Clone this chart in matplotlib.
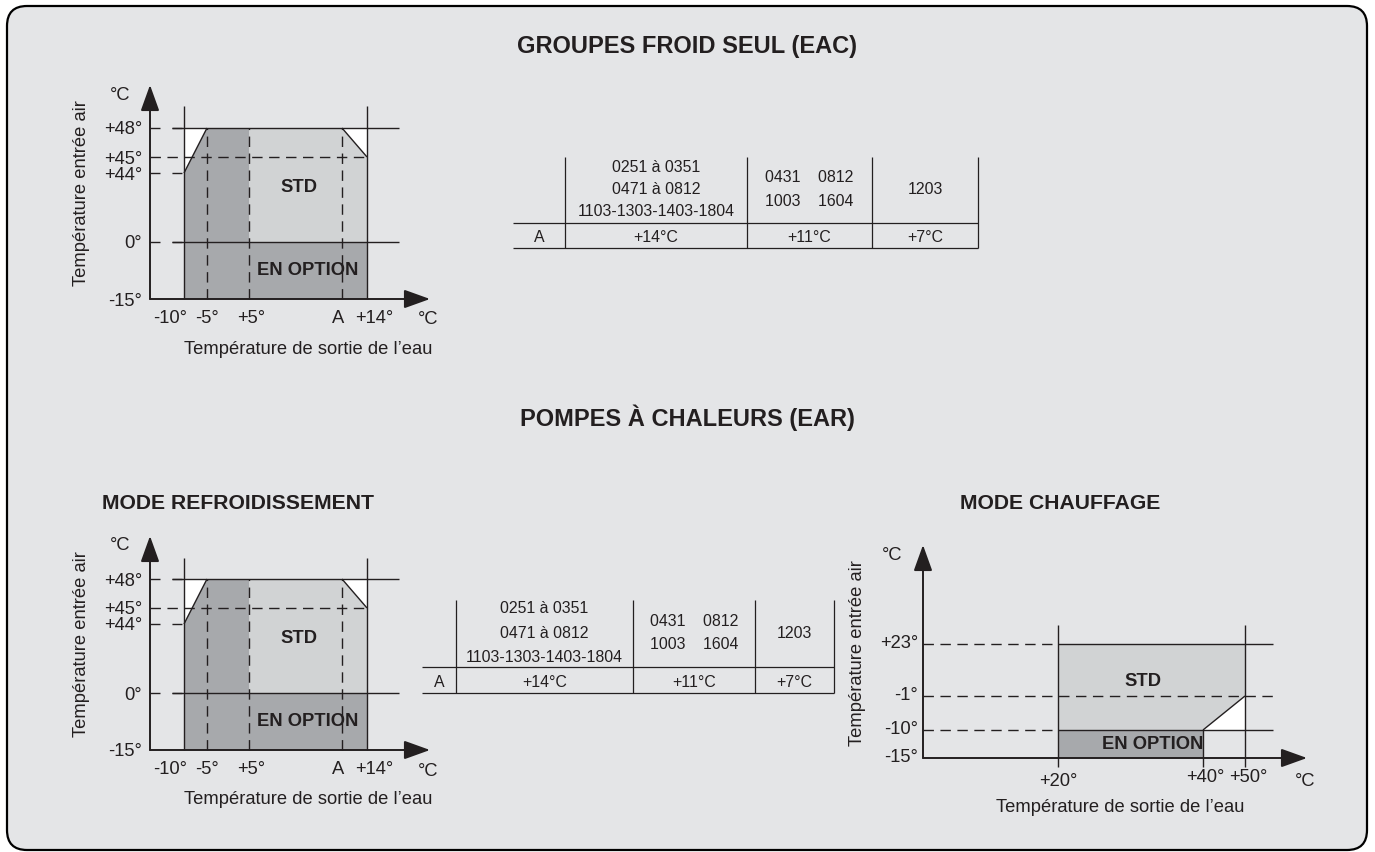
import numpy as np
import matplotlib
matplotlib.use('Agg')
import matplotlib.pyplot as plt
from matplotlib.patches import FancyBboxPatch, Polygon

plt.rcParams['font.family'] = ['Liberation Sans', 'DejaVu Sans']
plt.rcParams['lines.scale_dashes'] = False

W, H = 1375, 852
DPI = 100

BG = '#e4e5e7'
DARK = '#a7a9ac'
LIGHT = '#d1d3d4'
INK = '#231f20'

# ---------------- data ----------------
TITLE_TOP = 'GROUPES FROID SEUL (EAC)'
TITLE_MID = 'POMPES À CHALEURS (EAR)'
SUB_COOL = 'MODE REFROIDISSEMENT'
SUB_HEAT = 'MODE CHAUFFAGE'
XLABEL = 'Température de sortie de l’eau'
YLABEL = 'Température entrée air'
UNIT = '°C'

A = 11  # "A" limit, depends on the model (see table)
cool_x_ticks = [-10, -5, 5, A, 14]
cool_x_labels = ['-10°', '-5°', '+5°', 'A', '+14°']
cool_y_ticks = [-15, 0, 44, 45, 48]
cool_y_labels = ['-15°', '0°', '+44°', '+45°', '+48°']
cool_std = [(5, 0), (14, 0), (14, 45), (A, 48), (5, 48)]
cool_opt = [(-10, -15), (14, -15), (14, 0), (5, 0), (5, 48), (-5, 48), (-10, 44)]
cool_cut_left = [(-10, 44), (-10, 48), (-5, 48)]
cool_cut_right = [(A, 48), (14, 48), (14, 45)]

heat_x_ticks = [20, 40, 50]
heat_x_labels = ['+20°', '+40°', '+50°']
heat_y_ticks = [-15, -10, -1, 23]
heat_y_labels = ['-15°', '-10°', '-1°', '+23°']
heat_std = [(20, -10), (40, -10), (50, -1), (50, 23), (20, 23)]
heat_opt = [(20, -15), (40, -15), (40, -10), (20, -10)]
heat_cut = [(40, -10), (50, -10), (50, -1)]

table_models = ['0251 à 0351\n0471 à 0812\n1103-1303-1403-1804',
                '0431    0812\n1003    1604',
                '1203']
table_a = ['+14°C', '+11°C', '+7°C']

# ---------------- layout (pixels of the drawing, not to scale) ----------------
COOL_XV = [-20, -10, -5, 5, A, 14, 20]
COOL_XP = [150, 184, 207, 249, 342, 367, 430]
COOL_YV = [-15, 0, 44, 45, 48, 60]
COOL_YP = [299, 242, 173, 157, 128, 85]
COOL_XLAB_DX = [-14, 0, 2, -4, 7]
HEAT_XV = [0, 20, 40, 50, 60]
HEAT_XP = [923, 1058, 1203, 1245, 1307]
HEAT_YV = [-25, -15, -10, -1, 23, 50]
HEAT_YP = [785, 758, 730, 696, 644, 545]
HEAT_XLAB_D = [(0, 0), (2, 4), (3, 4)]

LW = 1.0
AXLW = 1.4
LEAD = (7.2, 8.6)
DASH = (7.5, 4.7)
PX = 72.0 / DPI  # points per pixel

fig = plt.figure(figsize=(W / DPI, H / DPI), dpi=DPI, facecolor='white')
bg = fig.add_axes([0, 0, 1, 1])
bg.set_xlim(0, W)
bg.set_ylim(H, 0)
bg.axis('off')
bg.add_patch(FancyBboxPatch((7, 6), 1360, 844, boxstyle='round,pad=0,rounding_size=20',
                            fc=BG, ec='black', lw=1.6))


def txt(x, y, s, size=13.2, **kw):
    bg.text(x, y, s, fontsize=size, color=INK, **kw)


def schematic_axes(xv, xp, yv, yp, ylo):
    xv, xp, yv, yp = [np.asarray(a, float) for a in (xv, xp, yv, yp)]
    ybot = np.interp(ylo, yv, yp)
    ax = fig.add_axes([xp[0] / W, 1 - ybot / H, (xp[-1] - xp[0]) / W, (ybot - yp[-1]) / H])
    ax.set_xscale('function', functions=(lambda v: np.interp(v, xv, xp),
                                         lambda p: np.interp(p, xp, xv)))
    ax.set_yscale('function', functions=(lambda v: -np.interp(v, yv, yp),
                                         lambda p: np.interp(-p, -yp, yv)))
    ax.set_xlim(xv[0], xv[-1])
    ax.set_ylim(ylo, yv[-1])
    ax.set_facecolor('none')
    ax.set_xticks([])
    ax.set_yticks([])
    for s in ax.spines.values():
        s.set_visible(False)
    return ax


def line(ax, xs, ys, dashes=None, lw=LW):
    kw = dict(color=INK, lw=lw, clip_on=False, solid_capstyle='butt', dash_capstyle='butt')
    if dashes:
        kw['dashes'] = dashes
    ax.plot(xs, ys, **kw)


def arrows(ax, x0, y0, x1, y1):
    kw = dict(arrowstyle='-|>,head_length=1.0,head_width=0.36', mutation_scale=16,
              color=INK, lw=AXLW, shrinkA=0, shrinkB=0)
    ax.annotate('', xy=(x1, y0), xytext=(x0, y0), arrowprops=kw, annotation_clip=False)
    ax.annotate('', xy=(x0, y1), xytext=(x0, y0), arrowprops=kw, annotation_clip=False)


def tick_texts(ax, x0, y0, xt, xl, xd, yt, yl, xpad, ypad, ydy):
    for v, s, (dx, dy) in zip(xt, xl, xd):
        ax.annotate(s, xy=(v, y0), xytext=(dx * PX, -xpad + dy * PX), textcoords='offset points',
                    ha='center', va='top', fontsize=13.2, color=INK, annotation_clip=False)
    for v, s in zip(yt, yl):
        ax.annotate(s, xy=(x0, v), xytext=(-ypad, ydy), textcoords='offset points',
                    ha='right', va='center_baseline', fontsize=13.2, color=INK,
                    annotation_clip=False)


def cool_diagram(dy):
    ax = schematic_axes(COOL_XV, COOL_XP, COOL_YV, [p + dy for p in COOL_YP], -15)
    x0 = COOL_XV[0]
    ax.add_patch(Polygon(cool_opt, closed=True, fc=DARK, ec='none'))
    ax.add_patch(Polygon(cool_std, closed=True, fc=LIGHT, ec='none'))
    for tri in (cool_cut_left, cool_cut_right):
        ax.add_patch(Polygon(tri, closed=True, fc='white', ec='none'))
    for x in (-5, 5, A):
        line(ax, [x, x], [-15, 48], DASH)
    line(ax, [x0, 14], [45, 45], DASH)
    for y in (48, 44, 0):
        line(ax, [x0, -10], [y, y], LEAD)
    line(ax, [-13.5, 17], [48, 48])
    line(ax, [-13.5, 17], [0, 0])
    for x in (-10, 14):
        line(ax, [x, x], [-15, 54])
    line(ax, [-10, -5], [44, 48])
    line(ax, [A, 14], [48, 45])
    arrows(ax, x0, -15, COOL_XV[-1], COOL_YV[-1])
    tick_texts(ax, x0, -15, cool_x_ticks, cool_x_labels, [(d, 0) for d in COOL_XLAB_DX],
               cool_y_ticks, cool_y_labels, 8.0, 5.8, 0)
    ax.text(8.2, 36, 'STD', ha='center', va='center_baseline', fontsize=13.2,
            fontweight='bold', color=INK, zorder=5)
    ax.text(8.8, -7, 'EN OPTION', ha='center', va='center_baseline', fontsize=13.2,
            fontweight='bold', color=INK, zorder=5)
    txt(120, 93 + dy, UNIT, ha='center', va='center_baseline')
    txt(428, 318 + dy, UNIT, ha='center', va='center_baseline')
    txt(308, 347 + dy, XLABEL, ha='center', va='center_baseline')
    txt(82, 193 + dy, YLABEL, ha='center', va='center', rotation=90)


def heat_diagram():
    ax = schematic_axes(HEAT_XV, HEAT_XP, HEAT_YV, HEAT_YP, -15)
    x0 = HEAT_XV[0]
    ax.add_patch(Polygon(heat_std, closed=True, fc=LIGHT, ec='none'))
    ax.add_patch(Polygon(heat_opt, closed=True, fc=DARK, ec='none'))
    ax.add_patch(Polygon(heat_cut, closed=True, fc='white', ec='none'))
    line(ax, [x0, 20], [23, 23], DASH)
    line(ax, [20, 54.5], [23, 23])
    line(ax, [x0, 54.5], [-1, -1], DASH)
    line(ax, [x0, 20], [-10, -10], DASH)
    line(ax, [20, 54.5], [-10, -10])
    for x in (20, 50):
        line(ax, [x, x], [-18.3, 28.2])
    line(ax, [40, 40], [-18.3, -10])
    line(ax, [40, 50], [-10, -1])
    arrows(ax, x0, -15, HEAT_XV[-1], HEAT_YV[-1])
    tick_texts(ax, x0, -15, heat_x_ticks, heat_x_labels, HEAT_XLAB_D,
               heat_y_ticks, heat_y_labels, 11.0, 3.6, 1.5)
    ax.text(31.7, 6.4, 'STD', ha='center', va='center_baseline', fontsize=13.2,
            fontweight='bold', color=INK, zorder=5)
    ax.text(33, -12.3, 'EN OPTION', ha='center', va='center_baseline', fontsize=13.2,
            fontweight='bold', color=INK, zorder=5)
    txt(892, 553, UNIT, ha='center', va='center_baseline')
    txt(1305, 780, UNIT, ha='center', va='center_baseline')
    txt(1120, 805, XLABEL, ha='center', va='center_baseline')
    txt(858, 653, YLABEL, ha='center', va='center', rotation=90)


def draw_table(cols, rows, spacing):
    ax = fig.add_axes([cols[0] / W, 1 - rows[-1] / H, (cols[-1] - cols[0]) / W,
                       (rows[-1] - rows[0]) / H])
    ax.set_xlim(cols[0], cols[-1])
    ax.set_ylim(rows[-1], rows[0])
    ax.axis('off')
    for x in cols[1:]:
        line(ax, [x, x], [rows[0], rows[-1]], lw=0.9)
    for y in rows[1:]:
        line(ax, [cols[0], cols[-1]], [y, y], lw=0.9)
    yc0 = (rows[0] + rows[1]) / 2 - 2
    yc1 = (rows[1] + rows[2]) / 2 + 1
    for i, s in enumerate(table_models):
        xc = (cols[i + 1] + cols[i + 2]) / 2
        parts = s.split('\n')
        for k, p in enumerate(parts):
            y = yc0 + (k - (len(parts) - 1) / 2) * spacing[i]
            ax.text(xc, y, p, ha='center', va='center_baseline', fontsize=11.4, color=INK)
        ax.text(xc, yc1, table_a[i], ha='center', va='center_baseline', fontsize=11.4, color=INK)
    ax.text((cols[0] + cols[1]) / 2, yc1, 'A', ha='center', va='center_baseline',
            fontsize=11.4, color=INK)


txt(687, 53, TITLE_TOP, size=17, fontweight='bold', ha='center', va='baseline')
txt(687, 426, TITLE_MID, size=17, fontweight='bold', ha='center', va='baseline')
txt(102, 509, SUB_COOL, size=15.2, fontweight='bold', ha='left', va='baseline')
txt(960, 509, SUB_HEAT, size=15.2, fontweight='bold', ha='left', va='baseline')

cool_diagram(0)
cool_diagram(451)
heat_diagram()
draw_table([513, 565, 747, 872, 978], [157, 223, 248], (21.5, 23, 0))
draw_table([422, 456, 633, 755, 834], [600, 667, 693], (24.5, 23, 0))

fig.savefig('out.png', dpi=DPI, facecolor='white')
